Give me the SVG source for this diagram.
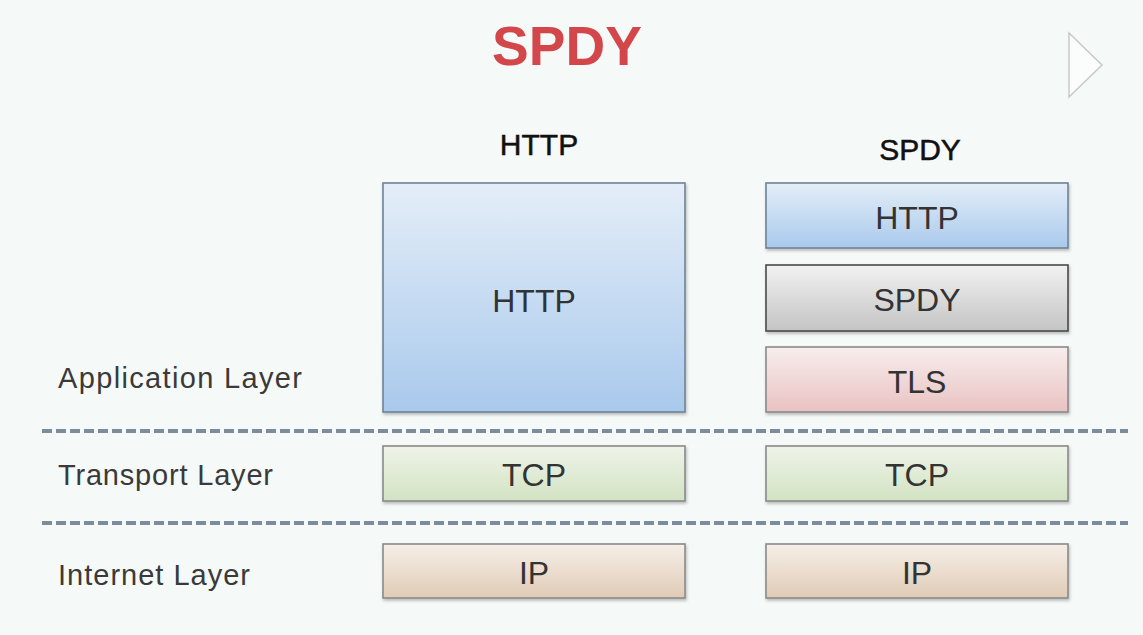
<svg xmlns="http://www.w3.org/2000/svg" width="1143" height="635" viewBox="0 0 1143 635">
<style>
.title{font-family:"Liberation Sans",Arial,sans-serif;font-weight:bold;font-size:55px;fill:#d3474a}
.hdr{font-family:"Liberation Sans",Arial,sans-serif;font-size:30px;fill:#111;stroke:#111;stroke-width:0.5px}
.lbl{font-family:"Liberation Sans",Arial,sans-serif;font-size:29px;fill:#3a3a3a}
.bt{font-family:"Liberation Sans",Arial,sans-serif;font-size:32px;fill:#333;text-anchor:middle}
.box{stroke-width:1.6px;filter:url(#sh)}
.dash{stroke:#7d8c9a;stroke-width:4px;stroke-dasharray:10 4;fill:none}
</style>
<defs>
<filter id="sh" x="-5%" y="-10%" width="110%" height="125%">
<feDropShadow dx="1" dy="2" stdDeviation="1.5" flood-color="#000" flood-opacity="0.25"/>
</filter>
<linearGradient id="gBlue" x1="0" y1="0" x2="0" y2="1"><stop offset="0" stop-color="#e4eef8"/><stop offset="1" stop-color="#a9c9ec"/></linearGradient>
<linearGradient id="gGray" x1="0" y1="0" x2="0" y2="1"><stop offset="0" stop-color="#f2f2f2"/><stop offset="1" stop-color="#c4c4c4"/></linearGradient>
<linearGradient id="gPink" x1="0" y1="0" x2="0" y2="1"><stop offset="0" stop-color="#f7eded"/><stop offset="1" stop-color="#eac2c2"/></linearGradient>
<linearGradient id="gGreen" x1="0" y1="0" x2="0" y2="1"><stop offset="0" stop-color="#eff4e9"/><stop offset="1" stop-color="#d2e2c2"/></linearGradient>
<linearGradient id="gTan" x1="0" y1="0" x2="0" y2="1"><stop offset="0" stop-color="#f6efe8"/><stop offset="1" stop-color="#e0cbb6"/></linearGradient>
</defs>
<rect x="0" y="0" width="1143" height="635" fill="#f5f9f7"/>
<polygon points="1069,33 1102,65 1069,97" fill="#fbfcfc" stroke="#c8c8c8" stroke-width="1.5"/>
<text class="title" x="567" y="65" text-anchor="middle">SPDY</text>
<text class="hdr" x="539" y="155" text-anchor="middle">HTTP</text>
<text class="hdr" x="920" y="160" text-anchor="middle">SPDY</text>
<text class="lbl" x="58" y="388" textLength="244">Application Layer</text>
<text class="lbl" x="58" y="485" textLength="215">Transport Layer</text>
<text class="lbl" x="58" y="585" textLength="192">Internet Layer</text>
<g id="connectors">
<line class="dash" x1="42" y1="431" x2="1128" y2="431"/>
<line class="dash" x1="42" y1="523" x2="1128" y2="523"/>
</g>
<g id="http-left">
<rect class="box" x="383" y="183" width="302" height="229" fill="url(#gBlue)" stroke="#6f8296"/>
<text class="bt" x="534" y="312">HTTP</text>
</g>
<g id="http-right">
<rect class="box" x="766" y="183" width="302" height="65" fill="url(#gBlue)" stroke="#6f8296"/>
<text class="bt" x="917" y="229">HTTP</text>
</g>
<g id="spdy-right">
<rect class="box" x="766" y="265" width="302" height="66" fill="url(#gGray)" stroke="#4a4a4a"/>
<text class="bt" x="917" y="311">SPDY</text>
</g>
<g id="tls-right">
<rect class="box" x="766" y="347" width="302" height="65" fill="url(#gPink)" stroke="#8a8a8a"/>
<text class="bt" x="917" y="393">TLS</text>
</g>
<g id="tcp-left">
<rect class="box" x="383" y="446" width="302" height="55" fill="url(#gGreen)" stroke="#8a8a8a"/>
<text class="bt" x="534" y="486">TCP</text>
</g>
<g id="tcp-right">
<rect class="box" x="766" y="446" width="302" height="55" fill="url(#gGreen)" stroke="#8a8a8a"/>
<text class="bt" x="917" y="486">TCP</text>
</g>
<g id="ip-left">
<rect class="box" x="383" y="544" width="302" height="54" fill="url(#gTan)" stroke="#8a8a8a"/>
<text class="bt" x="534" y="584">IP</text>
</g>
<g id="ip-right">
<rect class="box" x="766" y="544" width="302" height="54" fill="url(#gTan)" stroke="#8a8a8a"/>
<text class="bt" x="917" y="584">IP</text>
</g>
</svg>
